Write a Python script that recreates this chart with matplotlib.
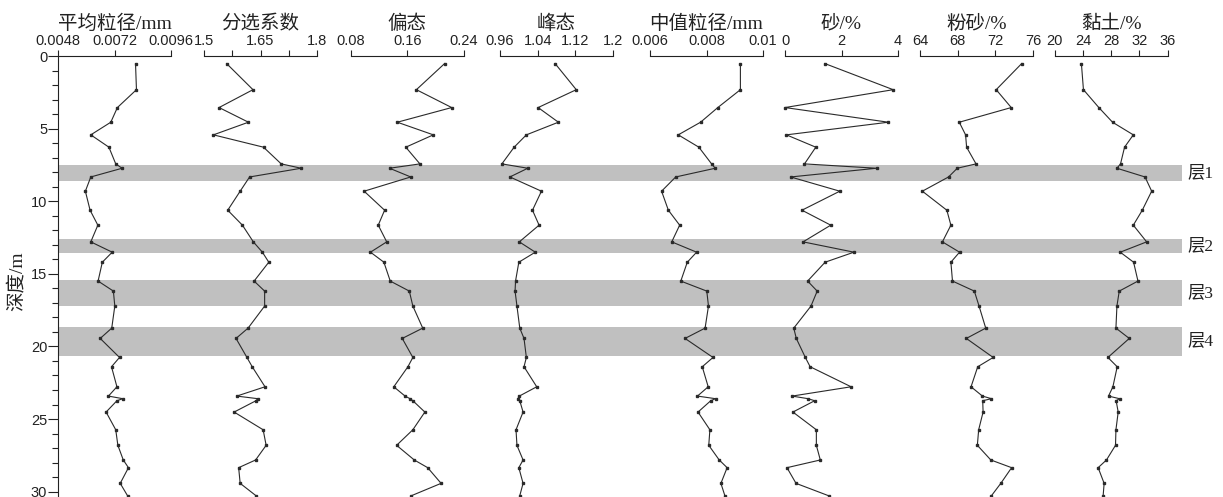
import matplotlib
matplotlib.use('Agg')
import matplotlib.pyplot as plt
from matplotlib.ticker import MultipleLocator
from matplotlib.transforms import blended_transform_factory

plt.rcParams['font.family'] = ['Liberation Sans', 'Noto Sans CJK SC']
plt.rcParams['font.sans-serif'] = ['Liberation Sans', 'DejaVu Sans']

# ---------------- data ----------------
depth = [0.52, 2.32, 3.55, 4.56, 5.43, 6.28, 7.43, 7.73, 8.33, 9.31, 10.62, 11.65,
         12.80, 13.51, 14.20, 15.50, 16.19, 17.22, 18.74, 19.45, 20.76, 21.40,
         22.78, 23.42, 23.60, 23.74, 24.52, 25.74, 26.81, 27.82, 28.35, 29.43, 30.28]

mean_size = [0.00808, 0.00812, 0.00731, 0.00703, 0.00618, 0.00695, 0.00724, 0.00751,
             0.00618, 0.00595, 0.00615, 0.00648, 0.00618, 0.00709, 0.00667, 0.00649,
             0.00714, 0.00720, 0.00707, 0.00658, 0.00740, 0.00706, 0.00729, 0.00693,
             0.00754, 0.00729, 0.00683, 0.00724, 0.00733, 0.00756, 0.00778, 0.00743, 0.00774]

sorting = [1.560, 1.630, 1.540, 1.618, 1.525, 1.658, 1.705, 1.758, 1.621, 1.596, 1.563,
           1.602, 1.631, 1.655, 1.672, 1.633, 1.661, 1.661, 1.617, 1.585, 1.614, 1.628,
           1.662, 1.587, 1.643, 1.638, 1.580, 1.657, 1.665, 1.637, 1.592, 1.596, 1.638]

skewness = [0.213, 0.173, 0.223, 0.146, 0.197, 0.158, 0.178, 0.135, 0.165, 0.099, 0.128,
            0.119, 0.131, 0.108, 0.127, 0.136, 0.163, 0.168, 0.182, 0.153, 0.168, 0.161,
            0.141, 0.157, 0.164, 0.168, 0.185, 0.168, 0.145, 0.170, 0.189, 0.208, 0.166]

kurtosis = [1.077, 1.122, 1.041, 1.084, 1.016, 0.990, 0.964, 1.019, 0.981, 1.048, 1.029,
            1.043, 1.001, 1.035, 1.000, 0.993, 0.992, 0.996, 1.002, 1.011, 1.016, 1.011,
            1.038, 1.001, 0.998, 1.002, 1.009, 0.994, 0.996, 1.009, 1.000, 1.009, 1.002]

median_size = [0.00920, 0.00920, 0.00840, 0.00779, 0.00700, 0.00773, 0.00818, 0.00831,
               0.00691, 0.00641, 0.00665, 0.00705, 0.00677, 0.00765, 0.00732, 0.00709,
               0.00801, 0.00807, 0.00795, 0.00724, 0.00823, 0.00785, 0.00806, 0.00768,
               0.00832, 0.00815, 0.00770, 0.00812, 0.00808, 0.00845, 0.00873, 0.00851, 0.00865]

sand = [1.41, 3.83, 0.00, 3.66, 0.05, 1.09, 0.69, 3.24, 0.20, 1.94, 0.60, 1.62, 0.64,
        2.44, 1.42, 0.80, 1.14, 0.92, 0.31, 0.40, 0.72, 0.89, 2.34, 0.25, 0.82, 1.05,
        0.28, 1.11, 1.11, 1.25, 0.07, 0.39, 1.54]

silt = [74.80, 72.09, 73.69, 68.17, 68.84, 68.95, 69.95, 67.96, 67.03, 64.25, 66.85,
        67.28, 66.38, 68.20, 67.28, 67.45, 69.77, 70.27, 70.98, 68.92, 71.77, 70.13,
        69.42, 70.63, 71.59, 70.66, 70.70, 70.23, 70.09, 71.52, 73.73, 72.58, 71.59]

clay = [23.78, 24.07, 26.25, 28.19, 31.13, 29.89, 29.32, 28.81, 32.79, 33.73, 32.40,
        31.13, 33.02, 29.28, 31.17, 31.79, 29.14, 28.81, 28.67, 30.56, 27.53, 28.85,
        28.24, 27.62, 29.18, 28.70, 28.99, 28.67, 28.61, 27.33, 26.15, 27.00, 26.86]

titles = ['平均粒径/mm', '分选系数', '偏态', '峰态', '中值粒径/mm', '砂/%', '粉砂/%', '黏土/%']
tick_vals = [[0.0048, 0.0072, 0.0096], [1.5, 1.65, 1.8], [0.08, 0.16, 0.24],
             [0.96, 1.04, 1.12, 1.2], [0.006, 0.008, 0.01], [0, 2, 4],
             [64, 68, 72, 76], [20, 24, 28, 32, 36]]
tick_labels = [['0.0048', '0.0072', '0.0096'], ['1.5', '1.65', '1.8'], ['0.08', '0.16', '0.24'],
               ['0.96', '1.04', '1.12', '1.2'], ['0.006', '0.008', '0.01'], ['0', '2', '4'],
               ['64', '68', '72', '76'], ['20', '24', '28', '32', '36']]
series = [mean_size, sorting, skewness, kurtosis, median_size, sand, silt, clay]

layer_names = ['层1', '层2', '层3', '层4']
layer_top = [7.50, 12.60, 15.46, 18.63]
layer_bot = [8.62, 13.60, 17.23, 20.67]

# ---------------- layout ----------------
W, H = 1223, 497
fig = plt.figure(figsize=(W / 100, H / 100), dpi=100)
serif_cjk = ['Liberation Serif', 'Noto Sans CJK SC']
sans = 'Liberation Sans'

top_px = 56
ymax = 30.37
ax_h = (H - top_px) / H
lefts = [58.3, 204.0, 350.7, 500.0, 650.0, 785.0, 920.0, 1054.7]
pw = 113.0
line_col = '#2a2a2a'
txt_col = '#222222'

bg = fig.add_axes([58.3 / W, 0, (1182 - 58.3) / W, ax_h])
bg.set_xlim(0, 1)
bg.set_ylim(ymax, 0)
bg.axis('off')
trans = blended_transform_factory(bg.transAxes, bg.transData)
for name, a, b in zip(layer_names, layer_top, layer_bot):
    bg.axhspan(a, b, color='#c0c0c0', lw=0, zorder=0)
    bg.text(1.005, (a + b) / 2, name, transform=trans, ha='left', va='center',
            fontsize=12.5, family=serif_cjk, color=txt_col)

for i in range(8):
    ax = fig.add_axes([lefts[i] / W, 0, pw / W, ax_h])
    ax.patch.set_alpha(0)
    ax.set_ylim(ymax, 0)
    tv = tick_vals[i]
    ax.set_xlim(tv[0], tv[-1])
    ax.plot(series[i], depth, color=line_col, lw=0.8, marker='s', ms=2.0,
            mfc=line_col, mec=line_col, clip_on=False, zorder=3)
    ax.xaxis.tick_top()
    ax.set_xticks(tv)
    ax.set_xticklabels(tick_labels[i], fontfamily=sans)
    if i == 1:
        ax.set_xticks([1.575, 1.725], minor=True)
    ax.tick_params(axis='x', which='major', direction='out', length=4, width=0.8,
                   pad=2, labelsize=10.5, colors=txt_col)
    ax.tick_params(axis='x', which='minor', direction='out', length=4, width=0.8,
                   colors=txt_col)
    for s in ['bottom', 'right']:
        ax.spines[s].set_visible(False)
    ax.spines['top'].set_linewidth(0.8)
    ax.spines['top'].set_color(txt_col)
    if i == 0:
        ax.spines['left'].set_linewidth(0.8)
        ax.spines['left'].set_color(txt_col)
        ax.yaxis.set_major_locator(MultipleLocator(5))
        ax.yaxis.set_minor_locator(MultipleLocator(1))
        ax.tick_params(axis='y', which='major', direction='out', length=7, width=0.8,
                       pad=1, labelsize=10.5, colors=txt_col)
        ax.tick_params(axis='y', which='minor', direction='out', length=4, width=0.8,
                       colors=txt_col)
        for lab in ax.get_yticklabels():
            lab.set_fontfamily(sans)
    else:
        ax.spines['left'].set_visible(False)
        ax.yaxis.set_visible(False)
    fig.text((lefts[i] + pw / 2) / W, (H - 24) / H, titles[i], ha='center', va='center',
             fontsize=14, family=serif_cjk, color=txt_col)

fig.text(17 / W, (H - 281) / H, '深度/m', rotation=90, ha='center', va='center',
         fontsize=14, family=serif_cjk, color=txt_col)

fig.savefig('out.png', dpi=100)
